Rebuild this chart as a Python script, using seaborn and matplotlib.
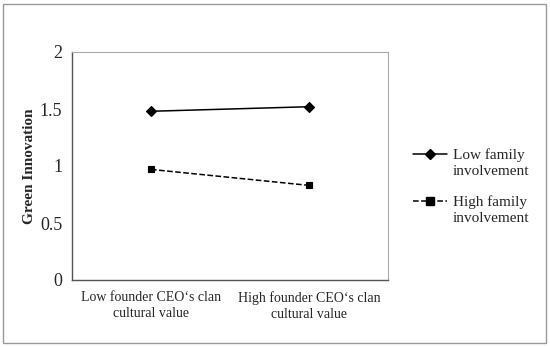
import pandas as pd
import seaborn as sns
import matplotlib.pyplot as plt
from matplotlib.patches import Rectangle
from matplotlib.lines import Line2D

categories = ["Low founder CEO\u2018s clan\ncultural value", "High founder CEO\u2018s clan\ncultural value"]
low_family = [1.48, 1.52]
high_family = [0.97, 0.83]
series_names = ["Low family involvement", "High family involvement"]

df = pd.DataFrame({
    "Category": categories * 2,
    "Green Innovation": low_family + high_family,
    "Group": [series_names[0]] * 2 + [series_names[1]] * 2,
})

sns.set_theme(style="white")
plt.rcParams["font.family"] = ["Liberation Serif", "DejaVu Serif"]

fig = plt.figure(figsize=(5.5, 3.47), dpi=100)
ax = fig.add_axes([72 / 550, 1 - 280 / 347, 316 / 550, 228 / 347])

sns.pointplot(
    data=df, x="Category", y="Green Innovation", hue="Group",
    order=categories, hue_order=series_names,
    palette=["black", "black"], markers=["D", "s"], linestyles=["-", "--"],
    markersize=5, linewidth=1.1, ax=ax, legend=False,
)
marker_sizes = [5.5, 6]
for line, ms in zip(ax.lines[:2], marker_sizes):
    line.set_markersize(ms)

ax.set_xlim(-0.5, 1.5)
ax.set_ylim(0, 2)
ax.set_yticks([0, 0.5, 1, 1.5, 2])
ax.set_yticklabels(["0", "0.5", "1", "1.5", "2"], fontsize=13)
ax.set_xticks([-0.5, 0.5, 1.5], minor=False)
ax.set_xticklabels([])
ax.set_xticks([0, 1], minor=True)
ax.set_xticklabels(categories, minor=True, fontsize=10, linespacing=1.3)
ax.tick_params(axis="x", which="minor", length=0, pad=8)
ax.tick_params(axis="x", which="major", length=4, direction="out", color="#808080")
ax.tick_params(axis="y", length=4, direction="out", color="#808080", pad=3)
ax.set_xlabel("")
ax.set_ylabel("Green Innovation", fontsize=11, fontweight="bold", labelpad=3)

for side in ["left", "bottom"]:
    ax.spines[side].set_color("#555555")
    ax.spines[side].set_linewidth(1.0)
for side in ["top", "right"]:
    ax.spines[side].set_color("#aaaaaa")
    ax.spines[side].set_linewidth(0.8)

# legend: marker aligned with first text line, as in the reference
blank = Line2D([], [], linestyle="none")
h_low = Line2D([], [], color="black", linestyle="-", marker="D", markersize=5.5, linewidth=1.1)
h_high = Line2D([], [], color="black", linestyle="--", marker="s", markersize=6, linewidth=1.1)
handles = [h_low, blank, blank, h_high, blank]
labels = ["Low family", "involvement", "", "High family", "involvement"]
ax.legend(handles, labels, loc="center left", bbox_to_anchor=(1.079, 0.41),
          frameon=False, fontsize=11, handlelength=2.2, handletextpad=0.4,
          labelspacing=0.12, borderpad=0, borderaxespad=0)

fig.patches.append(Rectangle((3 / 550, 4 / 347), 543 / 550, 339 / 347,
                             transform=fig.transFigure, fill=False,
                             edgecolor="#999999", linewidth=1.0))

fig.savefig("out.png", dpi=100)
